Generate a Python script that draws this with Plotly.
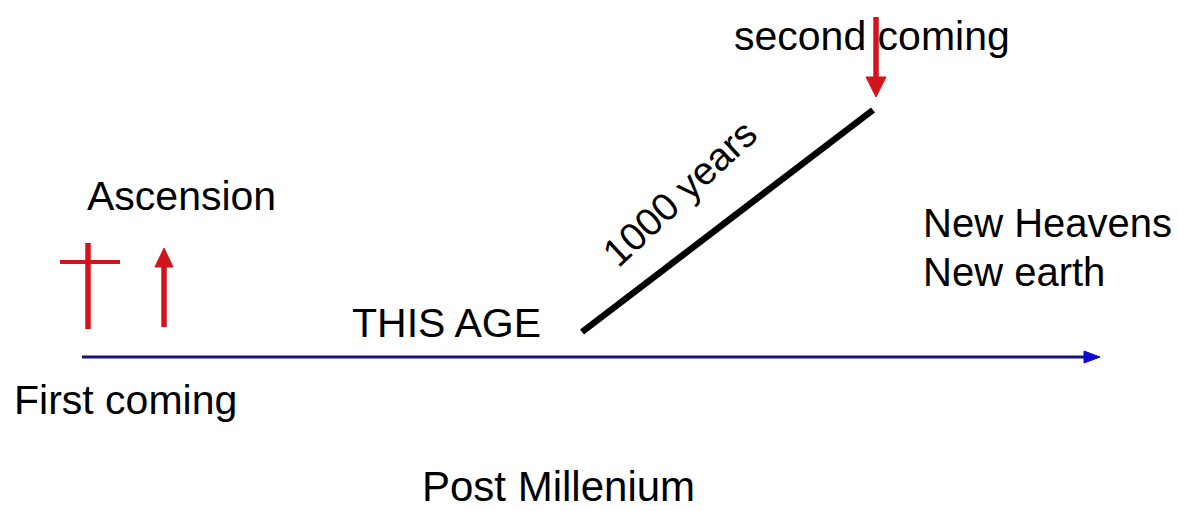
import plotly.graph_objects as go

W, H = 1179, 511

# ---- diagram data (reference pixel positions, y measured from the top) ----
timeline_x = [82, 1100]
timeline_y = [357, 357]

millennium_x = [582, 873]
millennium_y = [332, 110]

cross_vert_x = [88, 88]
cross_vert_y = [243, 329]
cross_bar_x = [60, 120]
cross_bar_y = [262, 262]

ascension_x = [164, 164]
ascension_y = [327, 248]   # tail, tip

second_x = [876, 876]
second_y = [17, 97]        # tail, tip

labels = ["second coming", "Ascension", "New Heavens", "New earth",
          "THIS AGE", "First coming"]
label_x = [872, 85, 921, 921, 350, 12]
label_baseline = [51, 211, 237, 286, 338, 415]
label_size = [41, 41, 40, 40, 41, 41]
label_anchor = ["center", "left", "left", "left", "left", "left"]

rot_label = "1000 years"
rot_x, rot_y, rot_angle = [679], [193], [-43]

title_text = "Post Millenium"
title_x, title_baseline = [558], [503]

RED = "#d2141c"
NAVY = "#14147e"
BLUE = "#0a0ad0"


def fy(v):
    return [H - t for t in v]


fig = go.Figure()


def line(xs, ys, color, width):
    fig.add_trace(go.Scatter(x=xs, y=fy(ys), mode="lines",
                             line=dict(color=color, width=width),
                             hoverinfo="skip", showlegend=False))


def head(tip_x, tip_y, dx, dy, length, half_w, color):
    bx, by = tip_x - dx * length, tip_y - dy * length
    px, py = -dy, dx
    xs = [tip_x, bx + px * half_w, bx - px * half_w, tip_x]
    ys = [tip_y, by + py * half_w, by - py * half_w, tip_y]
    fig.add_trace(go.Scatter(x=xs, y=fy(ys), mode="lines", fill="toself",
                             fillcolor=color, line=dict(color=color, width=1),
                             hoverinfo="skip", showlegend=False))


# timeline
line([timeline_x[0], timeline_x[1] - 12], timeline_y, NAVY, 3)
head(timeline_x[1], timeline_y[1], 1, 0, 16, 6, BLUE)

# 1000 years line
line(millennium_x, millennium_y, "black", 6.5)

# cross
line(cross_vert_x, cross_vert_y, RED, 5.5)
line(cross_bar_x, cross_bar_y, RED, 4)

# ascension arrow
line(ascension_x, [ascension_y[0], ascension_y[1] + 14], RED, 5.5)
head(ascension_x[1], ascension_y[1], 0, -1, 19, 9, RED)

# second coming arrow
line(second_x, [second_y[0], second_y[1] - 14], RED, 5.5)
head(second_x[1], second_y[1], 0, 1, 20, 10, RED)

FONT = "Arial, Liberation Sans, sans-serif"

for t, x, b, a, fs in zip(labels, label_x, label_baseline, label_anchor, label_size):
    fig.add_annotation(x=x, y=H - (b - 0.716 * fs / 2), text=t, showarrow=False,
                       xanchor=a, yanchor="middle",
                       font=dict(family=FONT, size=fs, color="black"))

fig.add_annotation(x=rot_x[0], y=H - rot_y[0], text=rot_label, showarrow=False,
                   xanchor="center", yanchor="middle", textangle=rot_angle[0],
                   font=dict(family=FONT, size=39, color="black"))

TFS = 42
fig.add_annotation(x=title_x[0], y=H - (title_baseline[0] - 0.8 * TFS / 2),
                   text=title_text, showarrow=False,
                   xanchor="center", yanchor="middle",
                   font=dict(family=FONT, size=TFS, color="black"))

fig.update_layout(
    width=W, height=H,
    margin=dict(l=0, r=0, t=0, b=0),
    paper_bgcolor="white", plot_bgcolor="white",
    xaxis=dict(range=[0, W], visible=False, fixedrange=True),
    yaxis=dict(range=[0, H], visible=False, fixedrange=True),
)

fig.write_html("out.html", config={"displayModeBar": False},
               post_script="document.body.style.margin='0';document.body.style.overflow='hidden';")
